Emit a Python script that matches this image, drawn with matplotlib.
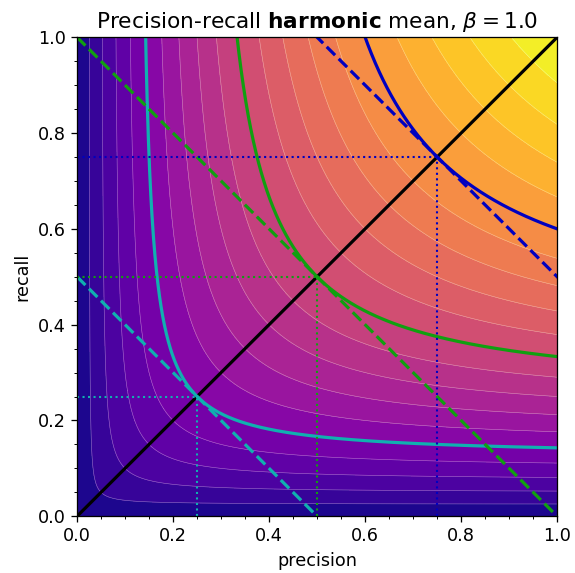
import numpy as np
import matplotlib
matplotlib.use("Agg")
import matplotlib.pyplot as plt
from matplotlib.ticker import MultipleLocator

plt.rcParams["font.size"] = 11

beta = 1.0
f_levels = [0.25, 0.5, 0.75]
f_colors = ["#10b0b0", "#10a010", "#0000c0"]
contour_levels = np.linspace(0, 1, 21)

fig = plt.figure(figsize=(5.0, 573 / 115), dpi=115)
ax = fig.add_axes([0.134, 0.099, 0.835, 0.836])

p = np.linspace(0, 1, 401)
P, R = np.meshgrid(p, p)
b2 = beta ** 2
with np.errstate(divide="ignore", invalid="ignore"):
    F = (1 + b2) * P * R / (b2 * P + R)
F = np.nan_to_num(F)

ax.contourf(P, R, F, levels=contour_levels, cmap="plasma")
ax.contour(P, R, F, levels=contour_levels[1:-1], colors="white", linewidths=0.35, alpha=0.45)

ax.plot([0, 1], [0, 1], color="black", lw=2)

for f, c in zip(f_levels, f_colors):
    pp = np.linspace(0, 1, 2000)
    with np.errstate(divide="ignore", invalid="ignore"):
        rr = f * b2 * pp / ((1 + b2) * pp - f)
    mask = (rr >= 0) & (rr <= 1.05) & ((1 + b2) * pp - f > 0)
    ax.plot(pp[mask], rr[mask], color=c, lw=2)
    ax.plot([0, 2 * f], [2 * f, 0], color=c, lw=2, ls="--")
    ax.plot([0, f], [f, f], color=c, lw=1.3, ls=":")
    ax.plot([f, f], [0, f], color=c, lw=1.3, ls=":")

ax.set_xlim(0, 1)
ax.set_ylim(0, 1)
ax.xaxis.set_major_locator(MultipleLocator(0.2))
ax.yaxis.set_major_locator(MultipleLocator(0.2))
ax.xaxis.set_minor_locator(MultipleLocator(0.05))
ax.yaxis.set_minor_locator(MultipleLocator(0.05))
ax.set_xlabel("precision")
ax.set_ylabel("recall")
ax.set_title(r"Precision-recall $\bf{harmonic}$ mean, $\beta = %.1f$" % beta, fontsize=13.5)

fig.savefig("out.png", dpi=115)
